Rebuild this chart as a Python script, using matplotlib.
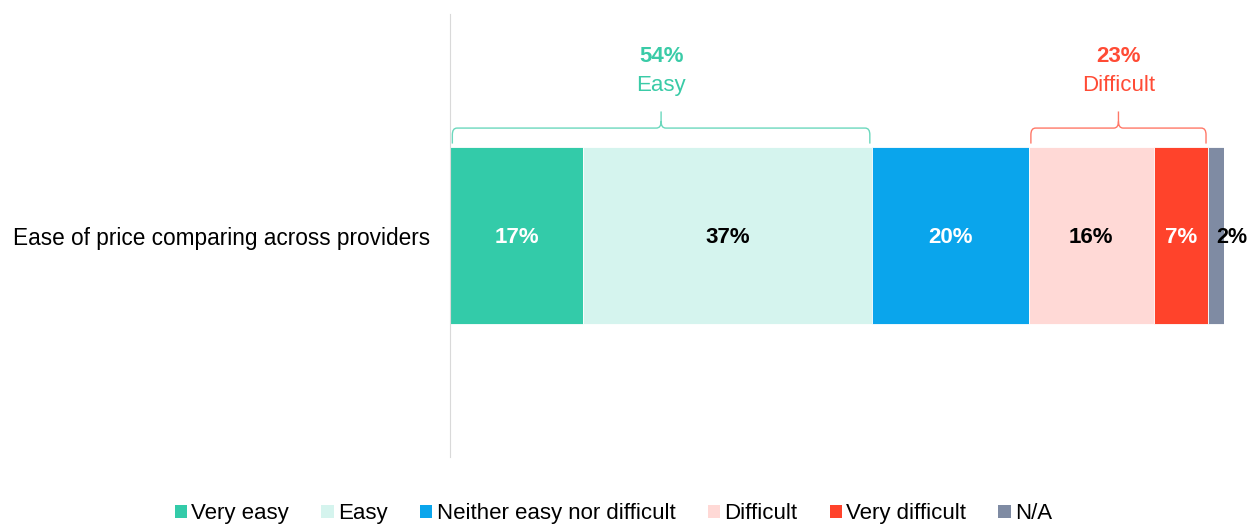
import matplotlib
matplotlib.use('Agg')
import matplotlib.pyplot as plt
from matplotlib.patches import Patch
from matplotlib.path import Path
from matplotlib.patches import PathPatch

plt.rcParams['font.family'] = ['Liberation Sans', 'DejaVu Sans']

# Survey data
question = "Ease of price comparing across providers"
categories = ["Very easy", "Easy", "Neither easy nor difficult",
              "Difficult", "Very difficult", "N/A"]
values = [17, 37, 20, 16, 7, 2]
colors = ["#33CBA9", "#D5F4EE", "#0AA5EC", "#FFD9D6", "#FF432B", "#7F8BA3"]
text_colors = ["white", "black", "white", "black", "white", "black"]

# Net groups shown above the bar
groups = [("Easy", [0, 1], "#3ACBA7"), ("Difficult", [3, 4], "#FF4B35")]

fig = plt.figure(figsize=(12.47, 5.27), dpi=100)
ax = fig.add_axes([450 / 1247, 70 / 527, 774 / 1247, 443 / 527])

left = 0
starts = []
for val, col, tcol in zip(values, colors, text_colors):
    ax.barh(0, val, left=left, height=0.8, color=col, edgecolor="white",
            linewidth=0.6)
    starts.append(left)
    if val < 4:
        ax.text(left + 0.95, -0.01, f"{val}%", ha="left", va="center",
                fontsize=15.5, fontweight="bold", color=tcol)
    else:
        ax.text(left + val / 2, -0.01, f"{val}%", ha="center", va="center",
                fontsize=16, fontweight="bold", color=tcol)
    left += val


def brace(ax, x0, x1, color):
    y_end, y_line, y_tip, r = 0.415, 0.485, 0.56, 0.6
    xm = (x0 + x1) / 2
    verts = [(x0, y_end), (x0, y_line - 0.03), (x0, y_line), (x0 + r, y_line),
             (xm - r, y_line), (xm, y_line), (xm, y_line + 0.03),
             (xm, y_tip), (xm, y_line + 0.03), (xm, y_line), (xm + r, y_line),
             (x1 - r, y_line), (x1, y_line), (x1, y_line - 0.03), (x1, y_end)]
    codes = [Path.MOVETO, Path.LINETO, Path.CURVE3, Path.CURVE3,
             Path.LINETO, Path.CURVE3, Path.CURVE3,
             Path.LINETO, Path.MOVETO, Path.CURVE3, Path.CURVE3,
             Path.LINETO, Path.CURVE3, Path.CURVE3, Path.LINETO]
    ax.add_patch(PathPatch(Path(verts, codes), fill=False, edgecolor=color,
                           linewidth=1.0, alpha=0.75, clip_on=False))


for name, idx, col in groups:
    x0 = starts[idx[0]]
    x1 = starts[idx[-1]] + values[idx[-1]]
    total = sum(values[i] for i in idx)
    brace(ax, x0 + 0.3, x1 - 0.3, col)
    xm = (x0 + x1) / 2
    ax.text(xm, 0.806, f"{total}%", ha="center", va="center", fontsize=16,
            fontweight="bold", color=col)
    ax.text(xm, 0.675, name, ha="center", va="center", fontsize=16, color=col)

ax.set_xlim(0, sum(values))
ax.set_ylim(-1, 1)
ax.set_yticks([0])
ax.set_yticklabels([question], fontsize=16.3)
ax.tick_params(axis="y", length=0, pad=14)
ax.set_xticks([])
for side in ["top", "right", "bottom"]:
    ax.spines[side].set_visible(False)
ax.spines["left"].set_color("#D9D9D9")

handles = [Patch(facecolor=c, edgecolor="none") for c in colors]
fig.legend(handles, categories, loc="lower center", ncol=6,
           bbox_to_anchor=(0.492, -0.033), frameon=False, fontsize=16,
           handlelength=0.55, handleheight=0.55, handletextpad=0.2,
           columnspacing=1.45)

plt.savefig("out.png", dpi=100)
plt.close()
